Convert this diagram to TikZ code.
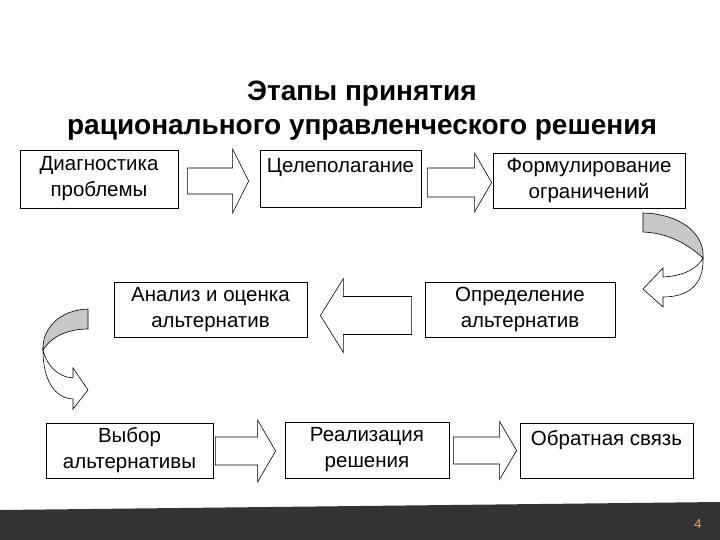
\documentclass[tikz,border=0pt]{standalone}
\usepackage{fontspec}
\setmainfont{Liberation Sans}
\usetikzlibrary{calc,positioning}
\definecolor{bargray}{HTML}{333333}
\definecolor{curvegray}{HTML}{C8C8C8}
\definecolor{pagenum}{HTML}{E9A66B}
% #1 start, #2 tip, #3 shaft half width, #4 head half width, #5 head length
\newcommand{\stagearrow}[5]{%
  \draw[blockarrow] let \p1=(#1), \p2=(#2), \n1={#5*sign(\x2-\x1)} in
    (\x1,\y1-#3) -- (\x2-\n1,\y1-#3) -- (\x2-\n1,\y1-#4) -- (\x2,\y1)
    -- (\x2-\n1,\y1+#4) -- (\x2-\n1,\y1+#3) -- (\x1,\y1+#3) -- cycle;}
\tikzset{
  stagebox/.style={draw=black, line width=0.8pt, fill=white, align=center, inner sep=0pt, font=\fontsize{20.5}{26}\selectfont},
  blockarrow/.style={draw=black, fill=white, line width=0.6pt, line join=miter},
  curveback/.style={draw=black, fill=curvegray, line width=0.6pt},
  curvefront/.style={draw=black, fill=white, line width=0.6pt, line join=miter}
}

\begin{document}
\begin{tikzpicture}[x=1pt, y=-1pt]
  \useasboundingbox (0,0) rectangle (720,540);
  \fill[bargray] (0,510) -- (720,502) -- (720,540) -- (0,540) -- cycle;
  \node[pagenum, font=\fontsize{13}{15}\selectfont] (page) at (698,524) {4};

  \node[font=\fontsize{28}{34}\selectfont\bfseries, align=center] (title) at (362,111) {Этапы принятия\\рационального управленческого решения};

  % stages
  \node[stagebox, minimum width=158, minimum height=58] (diag) at (99,179) {Диагностика\\проблемы};
  \node[stagebox, minimum width=161, minimum height=57] (goal) at (340.5,178.5) {Целеполагание\\\mbox{}};
  \node[stagebox, minimum width=192, minimum height=55] (constr) at (589,180.5) {Формулирование\\ограничений};
  \node[stagebox, minimum width=193, minimum height=55] (anal) at (210.5,309.5) {Анализ и оценка\\альтернатив};
  \node[stagebox, minimum width=190, minimum height=55] (alts) at (520,309.5) {Определение\\альтернатив};
  \node[stagebox, minimum width=167, minimum height=55] (choice) at (129.5,450.5) {Выбор\\альтернативы};
  \node[stagebox, minimum width=164, minimum height=56] (impl) at (367,450) {Реализация\\решения};
  \node[stagebox, minimum width=173, minimum height=55] (feedb) at (606.5,450.5) {Обратная связь\\\mbox{}};

  % straight block arrows
  \stagearrow{$(diag.east)+(9,2)$}{$(goal.west)+(-11,3)$}{13}{32}{16}
  \stagearrow{$(goal.east)+(6,4)$}{$(constr.west)+(-1,2)$}{14.5}{29.5}{17}
  \stagearrow{$(alts.west)+(-13,6)$}{$(anal.east)+(13,6)$}{19}{37}{23}
  \stagearrow{$(choice.east)+(2,0.5)$}{$(impl.west)+(-9,1)$}{14}{31}{18}
  \stagearrow{$(impl.east)+(4,0.5)$}{$(feedb.west)+(-3,0.5)$}{13.5}{29}{17}

  % curved arrow on the right
  \draw[curveback] (643,213) .. controls (682,214) and (705,235) .. (703,258)
    .. controls (690,246) and (670,233) .. (643,232) -- cycle;
  \draw[curvefront] (703,258) .. controls (704,285) and (688,297) .. (663,297)
    -- (663,307) -- (643,289) -- (663,268) -- (663,277)
    .. controls (684,276) and (698,268) .. (703,258) -- cycle;

  % curved arrow on the left
  \draw[curveback] (88,309) .. controls (60,310) and (42,328) .. (43,350)
    .. controls (50,338) and (66,329) .. (88,329) -- cycle;
  \draw[curvefront] (43,350) .. controls (43,381) and (55,398) .. (73,399)
    -- (73,409) -- (88,390) -- (73,368) -- (73,378)
    .. controls (58,377) and (47,366) .. (43,350) -- cycle;
\end{tikzpicture}
\end{document}
